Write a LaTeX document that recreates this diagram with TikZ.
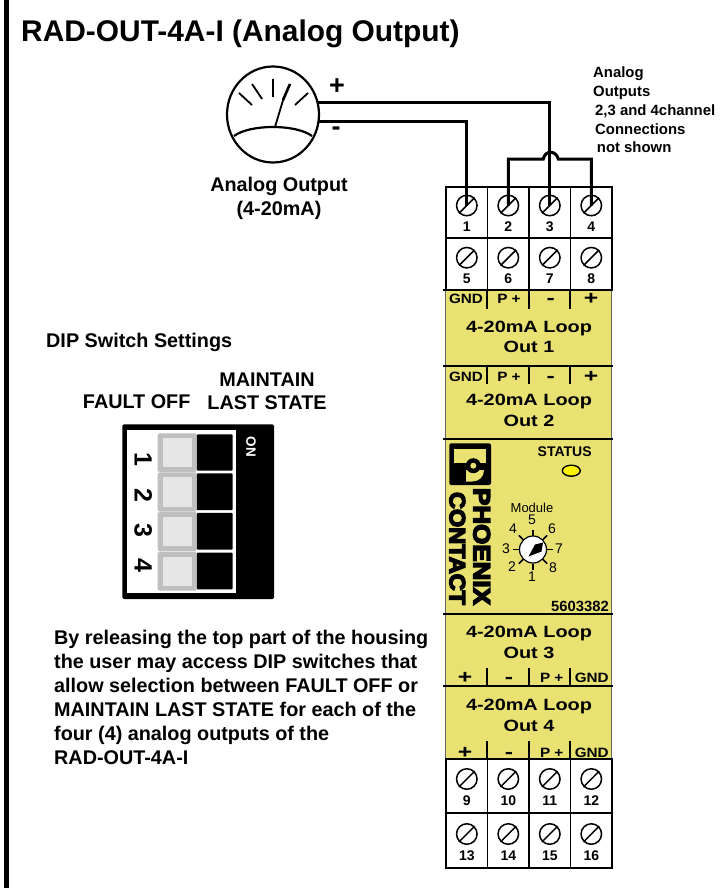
\documentclass[tikz,border=0pt]{standalone}
\usepackage{fontspec}
\setmainfont{Liberation Sans}
\newfontfamily\logofont[FakeBold=6]{Liberation Sans Bold}
\usepackage{tikz}
\usetikzlibrary{shapes.geometric}
\definecolor{housing}{HTML}{E9E272}
\definecolor{swouter}{HTML}{BFBFBF}
\definecolor{swinner}{HTML}{E6E6E6}
\tikzset{
    wire/.style={line width=3pt},
    sectline/.style={line width=2pt},
    tag/.style={font=\bfseries\fontsize{13.5}{13.5}\selectfont,inner sep=0pt,xscale=1.13},
    signtag/.style={font=\bfseries\fontsize{19}{19}\selectfont,inner sep=0pt,xscale=1.3},
    looptext/.style={font=\bfseries\fontsize{16.3}{16.3}\selectfont,inner sep=0pt,xscale=1.22},
    big/.style={font=\bfseries\fontsize{19.8}{19.8}\selectfont,inner sep=0pt},
    note/.style={font=\bfseries\fontsize{14.9}{14.9}\selectfont,inner sep=0pt,anchor=west},
    cell/.style={draw,line width=1.8pt,fill=white,minimum width=41.5pt,inner sep=0pt},
    screw/.style={draw,circle,line width=1.5pt,minimum size=20.5pt,inner sep=0pt},
    termno/.style={font=\bfseries\fontsize{14}{14}\selectfont,inner sep=0pt},
    dial/.style={font=\fontsize{14}{14}\selectfont,inner sep=0pt},
    dipno/.style={font=\bfseries\fontsize{25}{25}\selectfont,inner sep=0pt,rotate=-90}
}
\begin{document}
\begin{tikzpicture}[x=1pt,y=-1pt]
    \useasboundingbox (0,0) rectangle (725,888);
    \fill[black] (4,0) rectangle (9,888);
    \node[font=\bfseries\fontsize{29.9}{29.9}\selectfont,inner sep=0pt,anchor=base west] (title) at (21,42) {RAD-OUT-4A-I (Analog Output)};

    % meter
    \node[draw,ellipse,line width=2.2pt,minimum width=92pt,minimum height=96pt,inner sep=0pt] (meter) at (273,114.5) {};
    \draw[line width=2.2pt] (234,136) .. controls (250,124) and (296,124) .. (312,136);
    \draw[line width=1.8pt] (275,127) -- (284,97);
    \draw[line width=2.6pt] (283,100) -- (290,84);
    \draw[line width=1.8pt] (239,93) -- (252,105) (252,84) -- (262,99) (273,79) -- (273,97) (308,93) -- (295,105);
    \node[font=\bfseries\fontsize{27}{27}\selectfont,inner sep=0pt] (plussign) at (337,87) {+};
    \node[font=\bfseries\fontsize{27}{27}\selectfont,inner sep=0pt] (minussign) at (336,131) {-};
    \node[big] (metername) at (279,186) {Analog Output};
    \node[big] (meterrange) at (279,210) {(4-20mA)};

    % notes
    \node[note] (noteA) at (593,74) {Analog};
    \node[note] (noteB) at (593,92.7) {Outputs};
    \node[note] (noteC) at (595,111) {2,3 and 4channel};
    \node[note] (noteD) at (595,129) {Connections};
    \node[note] (noteE) at (596.7,147) {not shown};

    % housing
    \draw[fill=housing,draw=black!60,line width=.6pt] (445.5,290) rectangle (611.7,760);
    \foreach \y in {290,366,439,614,686}
        \draw[sectline] (443,\y) -- (613,\y);
    \foreach \x in {487.3,529,570.3} {
        \draw[sectline] (\x,290) -- (\x,309);
        \draw[sectline] (\x,366) -- (\x,384);
        \draw[sectline] (\x,668) -- (\x,686);
        \draw[sectline] (\x,741) -- (\x,759);
    }
    \foreach \y/\n in {299/a,376.7/b} {
        \node[tag] (gnd\n) at (466,\y) {GND};
        \node[tag] (pp\n) at (509,\y) {P +};
        \node[signtag] (neg\n) at (550.7,\y+2.5) {-};
        \node[signtag] (pos\n) at (591,\y) {+};
    }
    \foreach \y/\n in {678/c,752.7/d} {
        \node[signtag] (pos\n) at (465,\y) {+};
        \node[signtag] (neg\n) at (509,\y+2.5) {-};
        \node[tag] (pp\n) at (551.7,\y) {P +};
        \node[tag] (gnd\n) at (591.7,\y) {GND};
    }
    \foreach \ya/\yb/\n in {328/347/1,401/421/2,633/652.7/3,706/725.7/4} {
        \node[looptext] (loop\n) at (529,\ya) {4-20mA Loop};
        \node[looptext] (out\n) at (529,\yb) {Out \n};
    }

    % terminals
    \foreach \yc/\h/\ys/\yn/\a in {212.5/51.5/205.5/226.7/1,264/52/257.7/278.7/5,786/54/779/801/9,840.5/55/834/856/13}
        \foreach \c in {0,1,2,3} {
            \pgfmathtruncatemacro\n{\a+\c}
            \pgfmathsetmacro\xc{466.8+41.5*\c}
            \node[cell,minimum height=\h pt] (cell\n) at (\xc,\yc) {};
            \node[screw] (s\n) at (\xc,\ys) {};
            \draw[line width=1.5pt] (s\n.225) -- (s\n.45);
            \node[termno] (no\n) at (\xc,\yn) {\n};
        }

    % wiring
    \coordinate (plusin) at (318,103);
    \coordinate (minusin) at (319,122);
    \coordinate (hopl) at (543.3,159);
    \coordinate (hopr) at (558.3,159);
    \draw[wire] (plusin) -| (s3.center);
    \draw[wire] (minusin) -| (s1.center);
    \draw[wire] (s2.center) |- (hopl) .. controls (545,150) and (556,150) .. (hopr) -| (s4.center);

    % status and dial
    \node[font=\bfseries\fontsize{14}{14}\selectfont,inner sep=0pt] (status) at (564.7,451.7) {STATUS};
    \node[draw,ellipse,fill=yellow,line width=1.4pt,minimum width=18pt,minimum height=11pt,inner sep=0pt] (led) at (571.3,470.7) {};
    \node[font=\fontsize{13}{13}\selectfont,inner sep=0pt] (module) at (532,508) {Module};
    \foreach \a in {0,45,...,315}
        \draw[line width=1.5pt] (533,549.5) +(\a:14) -- +(\a:20);
    \node[draw,circle,fill=white,line width=1.2pt,minimum size=27pt,inner sep=0pt] (knob) at (533,549.5) {};
    \fill (543,542.5) -- (535,544.5) -- (528.5,556.5) -- (541.5,551.5) -- cycle;
    \foreach \n/\x/\y in {5/532/520,4/513/529,6/552/529,3/506/549,7/559/549,2/512/567,8/553/568,1/532/577}
        \node[dial] (pos\n) at (\x,\y) {\n};
    \node[font=\bfseries\fontsize{14.8}{14.8}\selectfont,inner sep=0pt,anchor=east] (partno) at (609,606.7) {5603382};

    % logo
    \fill[black,rounded corners=2pt] (449.3,443.3) rectangle (491,485);
    \fill[housing] (454,449) rectangle (485.5,463);
    \fill[housing] (466,470) -- (484,470) .. controls (484,477) and (479,481.5) .. (472,481.5) -- (466,481.5) -- cycle;
    \fill[black] (473.3,465.7) circle (7.5);
    \fill[housing] (473.3,465.7) circle (3);
    \node[inner sep=0pt,rotate=-90] (logoA) at (481.7,546.5) {\resizebox{117pt}{16.5pt}{\logofont PHOENIX}};
    \node[inner sep=0pt,rotate=-90] (logoB) at (457.3,548.5) {\resizebox{113pt}{15.5pt}{\logofont CONTACT}};

    % dip switch
    \node[big,anchor=west] (diptitle) at (46,342.7) {DIP Switch Settings};
    \node[big] (faultoff) at (136.7,401.7) {FAULT OFF};
    \node[big] (maintain) at (267,380) {MAINTAIN};
    \node[big] (laststate) at (267,402.7) {LAST STATE};
    \fill[black,rounded corners=1.5pt] (122.3,424.3) rectangle (274,599);
    \fill[white] (127.3,430) rectangle (236,593);
    \foreach \ya/\yb/\n/\yt in {433.3/472/1/459,472.4/511.6/2/495,511.8/551/3/530,551.6/590.7/4/565} {
        \fill[black,rounded corners=1pt] (196.7,\ya+1) rectangle (232.7,\yb-1.4);
        \fill[swouter,rounded corners=1.5pt] (157.7,\ya) rectangle (196.7,\yb);
        \fill[swinner] (162.7,\ya+5) rectangle (191.7,\yb-5);
        \node[dipno] (dip\n) at (143.3,\yt) {\n};
    }
    \node[font=\bfseries\fontsize{13.5}{13.5}\selectfont,inner sep=0pt,rotate=-90,text=white] (onlabel) at (251,447) {ON};

    % paragraph
    \node[font=\bfseries\fontsize{19.8}{24}\selectfont,inner sep=0pt,anchor=north west,align=left] (para) at (54,629.5) {By releasing the top part of the housing\\the user may access DIP switches that\\allow selection between FAULT OFF or\\MAINTAIN LAST STATE for each of the\\four (4) analog outputs of the\\RAD-OUT-4A-I};
\end{tikzpicture}
\end{document}
